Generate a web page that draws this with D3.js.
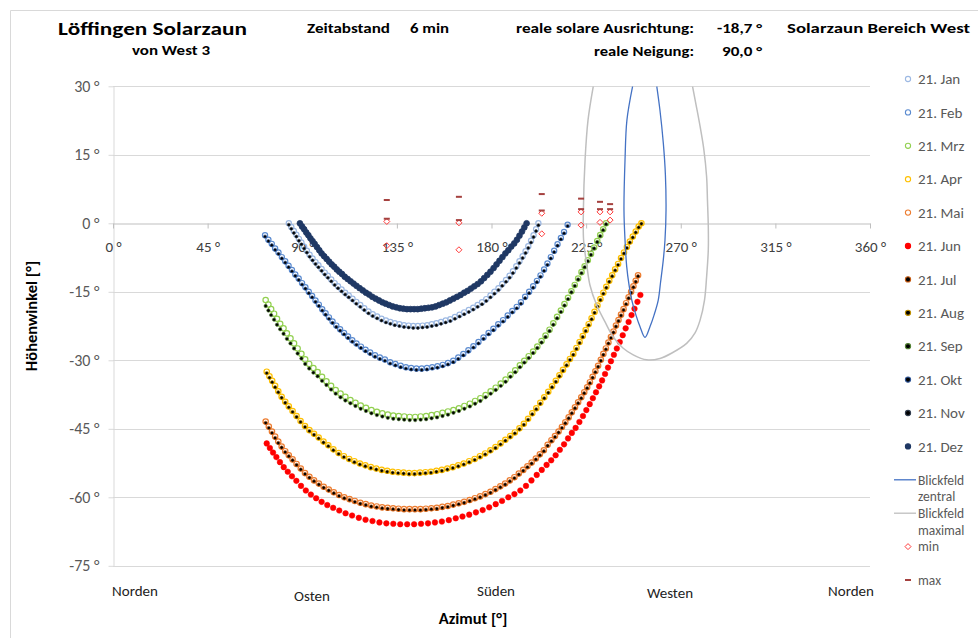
<!DOCTYPE html>
<html>
<head>
<meta charset="utf-8">
<script src="https://cdn.jsdelivr.net/npm/d3@7"></script>
<style>
  body { margin: 0; background: #fff; }
  text { font-family: Carlito, "Liberation Sans", Arial, sans-serif; }
</style>
</head>
<body>
<div id="chart"></div>
<script>
// sun paths seen from the fence: azimuth [°] and elevation [°]
const azJun = [73.1,74.6,76.1,77.7,79.4,81.2,83.1,85.1,87.2,89.4,91.7,94.1,96.6,99.2,101.9,104.7,107.6,110.6,113.7,116.9,120.1,123.4,126.7,130,133.3,136.6,139.9,143.2,146.5,149.8,153.1,156.4,159.7,163,166.2,169.4,172.6,175.8,178.9,182,185,188,190.9,193.7,196.4,199,201.5,203.9,206.2,208.4,210.5,212.5,214.5,216.4,218.2,220,221.8,223.5,225.1,226.7,228.2,229.7,231.2,232.6,234,235.4,236.8,238.2,239.6,241,242.4,243.8,245.2,246.6,248,249.4,250.8];
const altJun = [-48.2,-49.2,-50.2,-51.2,-52.3,-53.4,-54.4,-55.4,-56.4,-57.5,-58.5,-59.4,-60.2,-61.0,-61.7,-62.3,-62.9,-63.5,-64.0,-64.5,-64.9,-65.2,-65.5,-65.7,-65.8,-65.9,-65.9,-65.9,-65.8,-65.7,-65.5,-65.3,-65.0,-64.6,-64.2,-63.8,-63.3,-62.8,-62.2,-61.5,-60.8,-60.0,-59.3,-58.5,-57.5,-56.3,-55.1,-54.0,-52.9,-51.9,-50.8,-49.6,-48.4,-47.1,-45.9,-44.8,-43.5,-42.2,-40.9,-39.6,-38.3,-37.0,-35.7,-34.4,-33.0,-31.6,-30.2,-28.8,-27.4,-26.0,-24.5,-23.0,-21.6,-20.1,-18.7,-17.2,-15.7];

const azMaiJul = [72.6,74.1,75.6,77.1,78.6,80.2,81.9,83.6,85.4,87.3,89.3,91.3,93.4,95.6,97.9,100.2,102.6,105,107.5,110,112.5,115,117.6,120.2,122.8,125.4,128,130.6,133.2,135.8,138.4,141,143.6,146.2,148.8,151.4,154,156.6,159.2,161.8,164.4,167,169.6,172.1,174.6,177.1,179.5,181.9,184.2,186.5,188.7,190.9,193,195.1,197.1,199.1,201.1,203,204.9,206.7,208.5,210.2,211.9,213.5,215.1,216.7,218.2,219.7,221.2,222.7,224.1,225.5,226.8,228.1,229.4,230.7,232,233.2,234.4,235.6,236.8,238,239.2,240.4,241.6,242.8,244,245.2,246.4,247.5,248.6,249.7];
const altMai = [-43.4,-44.5,-45.6,-46.7,-47.8,-48.9,-49.9,-50.8,-51.7,-52.7,-53.7,-54.7,-55.5,-56.3,-57.0,-57.7,-58.3,-58.9,-59.5,-60.0,-60.4,-60.8,-61.2,-61.5,-61.8,-62.0,-62.2,-62.3,-62.4,-62.5,-62.6,-62.6,-62.6,-62.6,-62.5,-62.4,-62.3,-62.1,-61.9,-61.6,-61.3,-61.0,-60.6,-60.2,-59.8,-59.3,-58.8,-58.2,-57.6,-57.0,-56.3,-55.6,-54.8,-54.0,-53.2,-52.4,-51.5,-50.6,-49.7,-48.5,-47.5,-46.6,-45.6,-44.6,-43.6,-42.5,-41.4,-40.3,-39.2,-38.1,-37.0,-35.9,-34.8,-33.6,-32.4,-31.2,-29.9,-28.6,-27.4,-26.1,-24.9,-23.7,-22.4,-21.2,-20.0,-18.8,-17.5,-16.2,-15.0,-13.8,-12.6,-11.4];
const altJul = [-43.7,-44.8,-45.9,-47.0,-48.1,-49.1,-50.1,-51.0,-51.9,-52.9,-53.9,-54.9,-55.7,-56.5,-57.2,-57.9,-58.5,-59.1,-59.7,-60.2,-60.6,-61.0,-61.4,-61.7,-62.0,-62.2,-62.4,-62.5,-62.6,-62.7,-62.8,-62.8,-62.8,-62.8,-62.7,-62.6,-62.5,-62.3,-62.1,-61.8,-61.5,-61.2,-60.8,-60.4,-60.0,-59.5,-59.0,-58.4,-57.8,-57.2,-56.5,-55.8,-55.0,-54.2,-53.4,-52.6,-51.7,-50.8,-49.9,-48.7,-47.7,-46.8,-45.8,-44.8,-43.8,-42.7,-41.6,-40.5,-39.4,-38.3,-37.2,-36.1,-35.0,-33.8,-32.6,-31.4,-30.1,-28.8,-27.6,-26.3,-25.1,-23.9,-22.6,-21.4,-20.2,-19.0,-17.7,-16.4,-15.2,-14.0,-12.8,-11.6];

const azAprAug = [73.1,74.4,75.7,77.1,78.6,80.2,81.9,83.6,85.4,87.3,89.2,91.3,93.4,95.6,97.8,100.1,102.4,104.8,107.3,109.8,112.3,114.8,117.4,120,122.6,125.2,127.8,130.4,133,135.6,138.2,140.8,143.4,146,148.6,151.2,153.8,156.4,159,161.6,164.2,166.8,169.4,172,174.5,177,179.5,181.9,184.3,186.6,188.9,191.1,193.3,195.4,197.4,199.4,201.3,203.2,205.1,207,208.8,210.6,212.3,214,215.7,217.3,218.9,220.4,221.9,223.4,224.8,226.2,227.6,229,230.4,231.8,233.2,234.6,236,237.4,238.8,240.2,241.6,243,244.4,245.8,247.2,248.6,250,251.3];
const altApr = [-32.5,-33.5,-34.5,-35.6,-36.8,-38.0,-39.1,-40.1,-41.1,-42.2,-43.3,-44.4,-45.3,-46.1,-46.9,-47.8,-48.6,-49.5,-50.3,-51.0,-51.6,-52.1,-52.6,-53.0,-53.4,-53.7,-54.0,-54.2,-54.4,-54.5,-54.6,-54.7,-54.7,-54.6,-54.5,-54.4,-54.2,-54.0,-53.7,-53.4,-53.0,-52.6,-52.1,-51.6,-51.0,-50.4,-49.7,-49.0,-48.2,-47.4,-46.6,-45.8,-44.9,-43.9,-42.8,-41.6,-40.5,-39.3,-38.1,-36.9,-35.7,-34.5,-33.3,-32.1,-30.9,-29.7,-28.6,-27.3,-26.0,-24.7,-23.4,-22.1,-20.8,-19.4,-18.0,-16.6,-15.2,-13.9,-12.6,-11.4,-10.1,-8.9,-7.6,-6.4,-5.2,-4.0,-2.9,-1.8,-0.7,0.0];
const altAug = [-32.8,-33.8,-34.8,-35.9,-37.0,-38.2,-39.3,-40.3,-41.3,-42.4,-43.5,-44.6,-45.5,-46.3,-47.1,-48.0,-48.8,-49.7,-50.5,-51.2,-51.8,-52.3,-52.8,-53.2,-53.6,-53.9,-54.2,-54.4,-54.6,-54.7,-54.8,-54.9,-54.9,-54.8,-54.7,-54.6,-54.4,-54.2,-53.9,-53.6,-53.2,-52.8,-52.3,-51.8,-51.2,-50.6,-49.9,-49.2,-48.4,-47.6,-46.8,-46.0,-45.1,-44.1,-43.0,-41.8,-40.7,-39.5,-38.3,-37.1,-35.9,-34.7,-33.5,-32.3,-31.1,-29.9,-28.8,-27.5,-26.2,-24.9,-23.6,-22.3,-21.0,-19.6,-18.2,-16.8,-15.4,-14.1,-12.8,-11.6,-10.3,-9.1,-7.8,-6.6,-5.4,-4.2,-3.1,-2.0,-0.9,-0.1];

const azMrzSep = [72.6,73.9,75.2,76.6,78,79.5,81.1,82.7,84.4,86.1,87.8,89.6,91.4,93.3,95.3,97.3,99.4,101.5,103.7,105.9,108.2,110.5,112.9,115.3,117.8,120.3,122.9,125.5,128.1,130.7,133.3,135.9,138.5,141.1,143.7,146.3,148.9,151.5,154.1,156.7,159.3,161.9,164.5,167.1,169.7,172.2,174.7,177.2,179.6,182,184.4,186.7,189,191.3,193.5,195.6,197.7,199.8,201.8,203.8,205.7,207.6,209.4,211.2,213,214.7,216.4,218,219.6,221.2,222.8,224.3,225.8,227.3,228.8,230.3,231.7,233.1,234.5];
const altMrz = [-16.8,-17.8,-18.8,-19.8,-20.9,-22.0,-23.0,-24.1,-25.2,-26.3,-27.4,-28.6,-29.8,-30.8,-31.7,-32.6,-33.6,-34.6,-35.6,-36.5,-37.3,-38.0,-38.7,-39.3,-39.9,-40.4,-40.9,-41.3,-41.6,-41.9,-42.1,-42.2,-42.3,-42.4,-42.4,-42.3,-42.2,-42.0,-41.8,-41.5,-41.2,-40.9,-40.5,-40.0,-39.5,-38.9,-38.3,-37.6,-36.8,-36.0,-35.1,-34.2,-33.2,-32.2,-31.1,-30.1,-29.1,-28.1,-27.0,-25.8,-24.6,-23.3,-21.9,-20.5,-19.1,-17.7,-16.3,-14.9,-13.5,-12.1,-10.7,-9.4,-8.1,-6.7,-5.3,-3.9,-2.6,-1.3,0.0];
const altSep = [-18.1,-19.1,-20.1,-21.1,-22.2,-23.2,-24.2,-25.3,-26.3,-27.4,-28.5,-29.6,-30.8,-31.8,-32.7,-33.5,-34.5,-35.4,-36.4,-37.3,-38.1,-38.8,-39.4,-40.0,-40.6,-41.1,-41.6,-42.0,-42.3,-42.6,-42.8,-42.9,-43.0,-43.1,-43.1,-43.0,-42.9,-42.7,-42.5,-42.2,-41.9,-41.5,-41.1,-40.6,-40.1,-39.5,-38.9,-38.1,-37.3,-36.5,-35.6,-34.7,-33.6,-32.6,-31.5,-30.5,-29.5,-28.4,-27.3,-26.1,-24.9,-23.6,-22.2,-20.8,-19.4,-18.0,-16.6,-15.1,-13.7,-12.3,-10.9,-9.6,-8.3,-6.9,-5.5,-4.1,-2.8,-1.5,-0.2];

const azFebOkt = [72.3,73.9,75.5,77.1,78.7,80.3,81.9,83.5,85.1,86.7,88.3,89.9,91.5,93.1,94.7,96.3,97.9,99.5,101.1,102.7,104.4,106.2,108,109.9,111.8,113.8,115.8,117.9,120.1,122.3,124.6,126.9,129.3,131.8,134.3,136.8,139.3,141.8,144.3,146.8,149.3,151.8,154.3,156.8,159.3,161.8,164.2,166.6,169,171.4,173.8,176.2,178.6,180.9,183.2,185.5,187.7,189.9,192,194,196,197.9,199.8,201.6,203.3,205,206.6,208.2,209.8,211.4,213,214.5,216.2];
const altFeb = [-2.6,-3.6,-4.5,-5.5,-6.4,-7.4,-8.3,-9.3,-10.2,-11.2,-12.1,-13.1,-14.0,-15.0,-15.9,-16.9,-17.8,-18.8,-19.7,-20.6,-21.5,-22.4,-23.2,-24.0,-24.8,-25.6,-26.3,-27.0,-27.7,-28.3,-28.9,-29.4,-29.8,-30.4,-30.8,-31.2,-31.5,-31.7,-31.8,-31.8,-31.7,-31.5,-31.3,-31.0,-30.6,-30.1,-29.4,-28.6,-27.8,-26.9,-26.0,-25.0,-24.0,-23.1,-22.1,-21.2,-20.2,-19.2,-18.3,-17.3,-16.1,-15.0,-13.8,-12.6,-11.4,-10.1,-8.8,-7.4,-6.0,-4.6,-3.2,-1.9,-0.3];
const altOkt = [-2.9,-3.9,-4.8,-5.8,-6.7,-7.7,-8.6,-9.6,-10.5,-11.5,-12.4,-13.4,-14.3,-15.3,-16.2,-17.2,-18.1,-19.1,-20.0,-20.9,-21.8,-22.7,-23.5,-24.3,-25.1,-25.9,-26.6,-27.3,-28.0,-28.6,-29.2,-29.7,-30.1,-30.7,-31.1,-31.5,-31.8,-32.0,-32.1,-32.1,-32.0,-31.8,-31.6,-31.3,-30.9,-30.4,-29.7,-28.9,-28.1,-27.2,-26.3,-25.3,-24.3,-23.4,-22.4,-21.5,-20.5,-19.5,-18.6,-17.6,-16.4,-15.3,-14.1,-12.9,-11.7,-10.4,-9.1,-7.7,-6.3,-4.9,-3.5,-2.2,-0.6];

const azJanNov = [83.6,84.8,86,87.2,88.4,89.6,90.9,92.2,93.5,94.9,96.3,97.7,99.2,100.7,102.2,103.8,105.4,107,108.7,110.4,112.1,113.9,115.7,117.6,119.5,121.5,123.5,125.6,127.7,129.8,131.9,134,136.2,138.4,140.6,142.8,145,147.2,149.4,151.6,153.8,156,158.2,160.4,162.6,164.8,167,169.2,171.3,173.4,175.5,177.5,179.5,181.4,183.3,185.1,186.9,188.6,190.2,191.8,193.3,194.8,196.2,197.5,198.8,200,201.2,202.3];
const altJan = [0.0,-0.8,-1.7,-2.5,-3.4,-4.2,-5.1,-6.0,-6.9,-7.7,-8.5,-9.2,-10.0,-10.8,-11.5,-12.3,-13.1,-13.8,-14.5,-15.2,-15.8,-16.5,-17.2,-17.9,-18.6,-19.3,-19.9,-20.4,-20.9,-21.3,-21.6,-21.9,-22.1,-22.3,-22.4,-22.5,-22.5,-22.4,-22.3,-22.1,-21.9,-21.6,-21.3,-21.0,-20.5,-20.0,-19.5,-19.0,-18.5,-17.9,-17.3,-16.6,-15.8,-15.0,-14.2,-13.3,-12.4,-11.5,-10.5,-9.4,-8.3,-7.2,-6.1,-5.0,-3.8,-2.6,-1.3,0.0];
const altNov = [-0.3,-1.2,-2.1,-2.9,-3.8,-4.6,-5.5,-6.4,-7.3,-8.1,-8.9,-9.6,-10.4,-11.2,-11.9,-12.7,-13.5,-14.2,-14.9,-15.6,-16.2,-16.9,-17.6,-18.3,-19.0,-19.7,-20.3,-20.8,-21.3,-21.7,-22.0,-22.3,-22.5,-22.7,-22.8,-22.9,-22.9,-22.8,-22.7,-22.5,-22.3,-22.0,-21.7,-21.4,-20.9,-20.4,-19.9,-19.4,-18.9,-18.3,-17.7,-17.0,-16.2,-15.4,-14.6,-13.7,-12.8,-11.9,-10.9,-9.8,-8.7,-7.6,-6.5,-5.4,-4.2,-3.0,-1.7,-0.4];

const azDez = [88.9,89.9,90.9,91.9,92.9,93.9,94.9,95.9,97,98.1,99.2,100.4,101.6,102.8,104,105.2,106.4,107.6,108.9,110.2,111.6,113,114.4,115.8,117.3,118.8,120.3,121.8,123.3,124.9,126.5,128.1,129.7,131.3,133,134.7,136.4,138.1,139.8,141.5,143.2,144.9,146.6,148.3,150,151.7,153.4,155.1,156.8,158.5,160.2,161.9,163.6,165.3,167,168.6,170.2,171.8,173.4,175,176.5,178,179.5,181,182.4,183.8,185.2,186.6,188,189.4,190.8,192.1,193.3,194.5,195.6,196.7];
const altDez = [0.0,-0.7,-1.3,-2.0,-2.6,-3.3,-3.9,-4.5,-5.2,-5.9,-6.6,-7.2,-7.8,-8.4,-9.0,-9.5,-10.1,-10.6,-11.1,-11.7,-12.2,-12.7,-13.2,-13.7,-14.2,-14.7,-15.2,-15.6,-16.1,-16.5,-16.9,-17.3,-17.6,-17.9,-18.2,-18.4,-18.6,-18.7,-18.8,-18.8,-18.8,-18.8,-18.7,-18.6,-18.5,-18.4,-18.2,-17.9,-17.6,-17.3,-16.9,-16.5,-16.1,-15.7,-15.2,-14.8,-14.3,-13.8,-13.3,-12.7,-12.0,-11.3,-10.6,-9.8,-9.0,-8.2,-7.4,-6.6,-5.9,-5.1,-4.4,-3.6,-2.7,-1.8,-0.9,0.0];

// field of view outlines
const azBlickZentral = [247.1,244.4,243.5,243.0,243.5,244.3,245.4,246.7,248.7,250.6,253.0,255.4,257.3,259.3,260.4,261.7,262.5,263.0,262.7,261.7,260.1,258.6];
const altBlickZentral = [30,22.6,13.9,2.9,-3.7,-9.5,-13.5,-16.8,-20.1,-22.6,-25.0,-22.6,-20.1,-16.8,-12.9,-8.0,-3.7,2.9,10.6,17.6,24.8,30];
const azBlickMaximal = [228.4,225.9,224.5,223.7,223.8,225.3,226.8,230.0,234.0,237.9,242.5,247.4,253.8,260.1,265.8,272.8,276.8,279.2,281.3,282.3,283.1,283.1,282.7,282.3,281.0,279.2,277.3,275.6];
const altBlickMaximal = [30,22.6,13.9,2.9,-3.7,-9.1,-13.5,-17.9,-21.6,-24.9,-27.3,-28.8,-29.9,-29.6,-28.4,-26.3,-24.0,-21.2,-16.8,-11.7,-5.8,-0.7,5.1,10.2,16.1,21.2,25.9,30];

// min / max markers
const azMinMax = [130.2,130.2,164.5,164.5,203.9,203.9,222.6,222.6,231.6,231.6,236.4,236.4];
const altMin = [0.4,-4.9,0.1,-5.8,2.2,-2.3,2.5,-0.4,2.5,0.2,2.5,0.7];
const altMax = [5.1,1.0,5.8,0.7,6.4,2.8,5.4,3.1,4.7,3.1,4.2,3.1];

const xTicks = [0,45,90,135,180,225,270,315,360];
const yTicks = [30,15,0,-15,-30,-45,-60,-75];
const compassNames = ["Norden","Osten","Süden","Westen","Norden"];

const width = 978, height = 638;
const plot = { left: 113, right: 870, top: 86.3, bottom: 565.8 };

const svg = d3.select("#chart").append("svg")
  .attr("width", width)
  .attr("height", height)
  .attr("viewBox", `0 0 ${width} ${height}`);

const x = d3.scaleLinear().domain([0, 360]).range([plot.left, plot.right]);
const y = d3.scaleLinear().domain([-75, 30]).range([plot.bottom, plot.top]);

// chart frame (only left/top edges show in the picture)
svg.append("path")
  .attr("d", `M10.5,${height}V10.5H${width}`)
  .attr("fill", "none")
  .attr("stroke", "#D9D9D9");

svg.append("clipPath").attr("id", "plotclip")
  .append("rect")
  .attr("x", plot.left).attr("y", plot.top)
  .attr("width", plot.right - plot.left).attr("height", plot.bottom - plot.top);

// gridlines
svg.append("g")
  .selectAll("line")
  .data(yTicks.filter(d => d !== 0))
  .join("line")
  .attr("x1", plot.left).attr("x2", plot.right)
  .attr("y1", d => Math.round(y(d)) + 0.5).attr("y2", d => Math.round(y(d)) + 0.5)
  .attr("stroke", "#D9D9D9");

// y axis
const yAxis = svg.append("g")
  .attr("transform", `translate(${plot.left + 0.5},0)`)
  .call(d3.axisLeft(y).tickValues(yTicks).tickSize(5).tickSizeOuter(0).tickPadding(9)
    .tickFormat(d => `${d} °`));
yAxis.select(".domain").attr("stroke", "#D9D9D9");
yAxis.selectAll(".tick line").attr("stroke", "#D9D9D9");
yAxis.selectAll(".tick text")
  .attr("font-size", 16).attr("fill", "#595959")
  .attr("font-family", "Carlito, 'Liberation Sans', Arial, sans-serif");

// x axis on the 0° line
const xAxis = svg.append("g")
  .attr("transform", `translate(0,${Math.round(y(0)) + 0.5})`)
  .call(d3.axisBottom(x).tickValues(xTicks).tickSize(5).tickSizeOuter(0).tickPadding(13)
    .tickFormat(d => `${d} °`));
xAxis.select(".domain").attr("stroke", "#BFBFBF");
xAxis.selectAll(".tick line").attr("stroke", "#BFBFBF");
xAxis.selectAll(".tick text")
  .attr("font-size", 15).attr("fill", "#404040")
  .attr("font-family", "Carlito, 'Liberation Sans', Arial, sans-serif");

// month series
const series = [
  { name: "21. Jan", az: azJanNov, alt: altJan, fill: "none", stroke: "#9DB9E3", r: 2.6, sw: 1.2 },
  { name: "21. Feb", az: azFebOkt, alt: altFeb, fill: "none", stroke: "#5B8BD0", r: 2.6, sw: 1.2 },
  { name: "21. Mrz", az: azMrzSep, alt: altMrz, fill: "none", stroke: "#92D050", r: 2.7, sw: 1.2 },
  { name: "21. Apr", az: azAprAug, alt: altApr, fill: "none", stroke: "#FFC000", r: 2.7, sw: 1.2 },
  { name: "21. Mai", az: azMaiJul, alt: altMai, fill: "none", stroke: "#ED7D31", r: 2.7, sw: 1.2 },
  { name: "21. Jun", az: azJun, alt: altJun, fill: "#FF0000", stroke: "#FF0000", r: 2.8, sw: 0.5 },
  { name: "21. Jul", az: azMaiJul, alt: altJul, fill: "#000000", stroke: "#C55A11", r: 1.7, sw: 0.6 },
  { name: "21. Aug", az: azAprAug, alt: altAug, fill: "#000000", stroke: "#BF9000", r: 1.7, sw: 0.6 },
  { name: "21. Sep", az: azMrzSep, alt: altSep, fill: "#000000", stroke: "#548235", r: 1.7, sw: 0.6 },
  { name: "21. Okt", az: azFebOkt, alt: altOkt, fill: "#000000", stroke: "#2F5597", r: 1.6, sw: 0.6 },
  { name: "21. Nov", az: azJanNov, alt: altNov, fill: "#000000", stroke: "#333F50", r: 1.5, sw: 0.6 },
  { name: "21. Dez", az: azDez, alt: altDez, fill: "#1F3864", stroke: "#1F3864", r: 2.9, sw: 0.8 }
];

const marks = svg.append("g").attr("clip-path", "url(#plotclip)");

series.forEach(s => {
  marks.append("g")
    .selectAll("circle")
    .data(d3.zip(s.az, s.alt))
    .join("circle")
    .attr("cx", d => x(d[0]))
    .attr("cy", d => y(d[1]))
    .attr("r", s.r)
    .attr("fill", s.fill)
    .attr("stroke", s.stroke)
    .attr("stroke-width", s.sw);
});

const line = d3.line()
  .x(d => x(d[0]))
  .y(d => y(d[1]))
  .curve(d3.curveCatmullRom.alpha(0.5));

marks.append("path")
  .datum(d3.zip(azBlickZentral, altBlickZentral))
  .attr("fill", "none")
  .attr("stroke", "#4472C4")
  .attr("stroke-width", 1.3)
  .attr("d", line);

marks.append("path")
  .datum(d3.zip(azBlickMaximal, altBlickMaximal))
  .attr("fill", "none")
  .attr("stroke", "#BFBFBF")
  .attr("stroke-width", 1.5)
  .attr("d", line);

const diamond = "M0,-3L3,0L0,3L-3,0Z";

svg.append("g")
  .selectAll("path")
  .data(d3.zip(azMinMax, altMin))
  .join("path")
  .attr("transform", d => `translate(${x(d[0])},${y(d[1])})`)
  .attr("d", diamond)
  .attr("fill", "none")
  .attr("stroke", "#FF3B3B")
  .attr("stroke-width", 1);

svg.append("g")
  .selectAll("rect")
  .data(d3.zip(azMinMax, altMax))
  .join("rect")
  .attr("x", d => x(d[0]) - 3)
  .attr("y", d => y(d[1]) - 1)
  .attr("width", 6)
  .attr("height", 2)
  .attr("fill", "#A5413F");

// header texts
const header = [
  { t: "Löffingen Solarzaun", x: 58, y: 35, w: 189, size: 18 },
  { t: "von West 3", x: 132, y: 55, w: 78, size: 14 },
  { t: "Zeitabstand", x: 307, y: 33, w: 83, size: 14 },
  { t: "6 min", x: 410, y: 33, w: 39, size: 14 },
  { t: "reale solare Ausrichtung:", x: 516, y: 33, w: 178, size: 14 },
  { t: "-18,7 °", x: 717, y: 33, w: 45, size: 14 },
  { t: "reale Neigung:", x: 594, y: 56, w: 100, size: 14 },
  { t: "90,0 °", x: 722, y: 56, w: 40, size: 14 },
  { t: "Solarzaun Bereich West", x: 787, y: 33, w: 183, size: 14 }
];
svg.append("g")
  .selectAll("text")
  .data(header)
  .join("text")
  .attr("x", d => d.x).attr("y", d => d.y)
  .attr("font-size", d => d.size)
  .attr("font-weight", "bold")
  .attr("textLength", d => d.w)
  .attr("lengthAdjust", "spacingAndGlyphs")
  .text(d => d.t);

// axis titles
svg.append("text")
  .attr("transform", "translate(37,316) rotate(-90)")
  .attr("text-anchor", "middle")
  .attr("font-size", 16.5).attr("font-weight", "bold")
  .text("Höhenwinkel [°]");

svg.append("text")
  .attr("x", 473).attr("y", 624)
  .attr("text-anchor", "middle")
  .attr("font-size", 16.5).attr("font-weight", "bold")
  .text("Azimut [°]");

// compass labels below the plot
const compassPos = [[135, 596], [312, 601], [496, 596], [670, 598], [851, 596]];
svg.append("g")
  .selectAll("text")
  .data(compassNames)
  .join("text")
  .attr("x", (d, i) => compassPos[i][0])
  .attr("y", (d, i) => compassPos[i][1])
  .attr("text-anchor", "middle")
  .attr("font-size", 15)
  .attr("fill", "#222")
  .text(d => d);

// legend
const legend = svg.append("g").attr("font-size", 15).attr("fill", "#595959");
const legX = 908, legTextX = 918, rowH = 33.4, legY0 = 79;

series.forEach((s, i) => {
  const ly = legY0 + i * rowH;
  legend.append("circle")
    .attr("cx", legX).attr("cy", ly)
    .attr("r", 2.6)
    .attr("fill", s.fill === "none" ? "#fff" : s.fill)
    .attr("stroke", s.stroke)
    .attr("stroke-width", 1.1);
  legend.append("text")
    .attr("x", legTextX).attr("y", ly).attr("dy", "0.35em")
    .text(s.name);
});

const extra = [
  { kind: "line", color: "#4472C4", lines: ["Blickfeld", "zentral"] },
  { kind: "line", color: "#BFBFBF", lines: ["Blickfeld", "maximal"] },
  { kind: "min", color: "#FF3B3B", lines: ["min"] },
  { kind: "max", color: "#A5413F", lines: ["max"] }
];
extra.forEach((e, i) => {
  const ly = legY0 + (series.length + i) * rowH;
  if (e.kind === "line") {
    legend.append("line")
      .attr("x1", 894).attr("x2", 916)
      .attr("y1", ly).attr("y2", ly)
      .attr("stroke", e.color).attr("stroke-width", 1.3);
  } else if (e.kind === "min") {
    legend.append("path")
      .attr("transform", `translate(${legX},${ly})`)
      .attr("d", diamond)
      .attr("fill", "none").attr("stroke", e.color);
  } else {
    legend.append("rect")
      .attr("x", legX - 3).attr("y", ly - 1)
      .attr("width", 6).attr("height", 2)
      .attr("fill", e.color);
  }
  e.lines.forEach((t, k) => {
    legend.append("text")
      .attr("x", legTextX).attr("y", ly + k * rowH / 2).attr("dy", "0.35em")
      .attr("font-size", 13.5)
      .text(t);
  });
});
</script>
</body>
</html>
